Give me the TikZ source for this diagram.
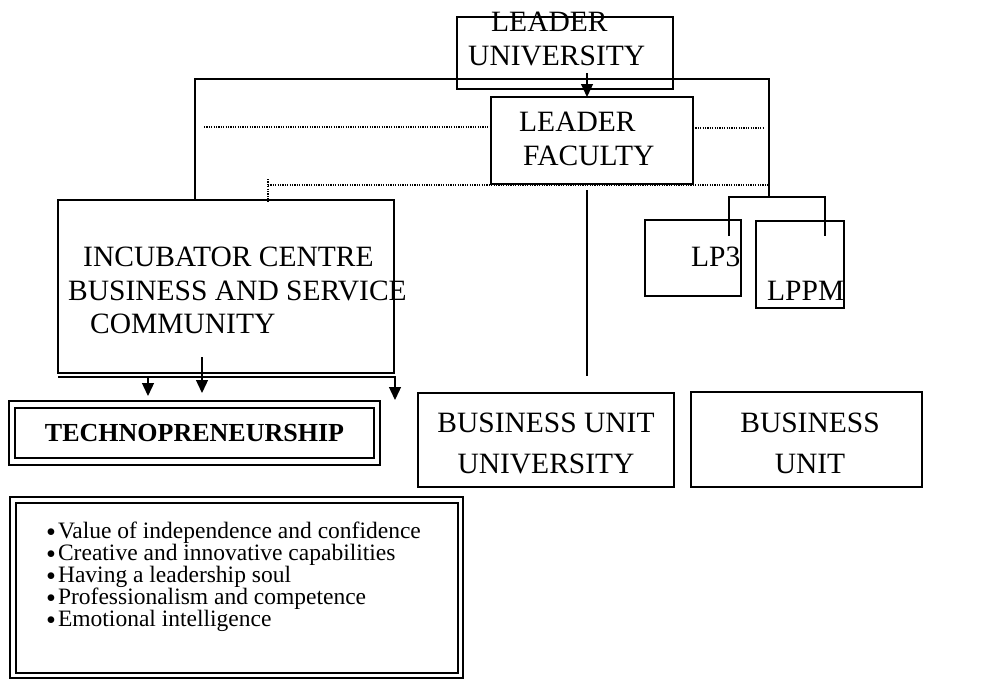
\documentclass[tikz,border=0pt]{standalone}
\usepackage{fontspec}
\setmainfont{Liberation Serif}
\usetikzlibrary{arrows.meta,calc}

\newcommand{\bul}{\raisebox{-3pt}{\scalebox{1.2}{\textbullet}}\hspace{2pt}}

\tikzset{
  unitbox/.style={draw, line width=1.3pt, inner sep=0pt, outer sep=0pt, anchor=north west},
  frmbox/.style={draw, line width=2.4pt, inner sep=0pt, outer sep=0pt},
  lbl/.style={anchor=base west, inner sep=0pt, font=\fontsize{29.5}{33}\selectfont},
  clbl/.style={anchor=base, inner sep=0pt, font=\fontsize{29.5}{33}\selectfont},
  item/.style={anchor=base west, inner sep=0pt, font=\fontsize{23.5}{22}\selectfont},
  link/.style={line width=1.3pt},
  dotline/.style={line width=1.3pt, dash pattern=on 1.2pt off 1.2pt},
  arr/.style={line width=1.3pt, -{Triangle[width=12pt,length=13pt]}}
}

\begin{document}
\begin{tikzpicture}[x=1pt,y=1pt,yscale=-1]
\useasboundingbox (0,0) rectangle (992,680);

%Shape: Rectangles
\node[unitbox, minimum width=216pt, minimum height=72pt] (uni) at (457,17) {};
\node[unitbox, minimum width=202pt, minimum height=87pt] (fac) at (491,97) {};
\node[unitbox, minimum width=336pt, minimum height=173pt] (inc) at (58,200) {};
\node[unitbox, minimum width=96pt, minimum height=76pt] (lp3) at (645,220) {};
\node[unitbox, minimum width=88pt, minimum height=87pt] (lppm) at (756,221) {};
\node[unitbox, minimum width=256pt, minimum height=94pt] (buu) at (418,393) {};
\node[unitbox, minimum width=231pt, minimum height=95pt] (bu) at (691,392) {};

%Shape: framed boxes
\node[frmbox, minimum width=359pt, minimum height=50pt, font=\bfseries\fontsize{26}{30}\selectfont] (tech) at (194.5,433) {TECHNOPRENEURSHIP};
\draw[line width=1.4pt] ($(tech.north west)+(-6,-7)$) rectangle ($(tech.south east)+(6,7)$);
\node[frmbox, minimum width=442pt, minimum height=170pt] (vals) at (237,588) {};
\draw[line width=1.4pt] ($(vals.north west)+(-6,-6)$) rectangle ($(vals.south east)+(5,5)$);

% Text Node
\node[lbl] (uni1) at (491,31.7) {LEADER};
\node[lbl] (uni2) at (468,65) {UNIVERSITY};
\node[lbl] (fac1) at (519,131.7) {LEADER};
\node[lbl] (fac2) at (523,165) {FACULTY};
\node[lbl] (inc1) at (83,266.7) {INCUBATOR CENTRE};
\node[lbl] (inc2) at (68,300) {BUSINESS AND SERVICE};
\node[lbl] (inc3) at (90,333) {COMMUNITY};
\node[lbl] (lp3t) at (691,266) {LP3};
\node[lbl] (lppmt) at (767,300) {LPPM};
\node[clbl] (buu1) at (546,432) {BUSINESS UNIT};
\node[clbl] (buu2) at (546,473) {UNIVERSITY};
\node[clbl] (bu1) at (810,432) {BUSINESS};
\node[clbl] (bu2) at (810,473) {UNIT};

% Text Node
\node[item] (v1) at (46,538) {\bul Value of independence and confidence};
\node[item] (v2) at (46,560) {\bul Creative and innovative capabilities};
\node[item] (v3) at (46,582) {\bul Having a leadership soul};
\node[item] (v4) at (46,604) {\bul Professionalism and competence};
\node[item] (v5) at (46,626) {\bul Emotional intelligence};

%Straight Lines
\coordinate (tl) at (195,79);
\coordinate (tr) at (769,79);
\coordinate (lpj) at (769,197);
\coordinate (lpa) at (729,236);
\coordinate (lpb) at (825,236);
\draw[link] (tl |- inc.north) -- (tl) -- (tr) -- (lpj);
\draw[link] (lpa) |- (lpj) -| (lpb);
\draw[arr] ([xshift=-5pt,yshift=-24pt]fac.north) -- ([xshift=-5pt]fac.north);
\draw[link] ([xshift=-5pt,yshift=6pt]fac.south) -- ++(0,186);

%Dotted Lines
\coordinate (dl) at (204,127);
\coordinate (dr) at (763,128);
\coordinate (db) at (268,185);
\draw[dotline] (dl) -- (dl -| fac.west);
\draw[dotline] (fac.east |- dr) -- (dr);
\draw[dotline] (db) -- (db -| tr);
\draw[dotline] ($(db)+(0,-6)$) -- ($(db |- inc.north)+(0,2)$);

%Arrows under the incubator
\draw[arr] ([yshift=4pt]inc.south west) -| ($(inc.south east)+(1,27)$);
\draw[arr] ($(inc.south west)+(90,4)$) -- ++(0,19);
\draw[arr] ($(inc.south west)+(144,-16)$) -- ++(0,36);

\end{tikzpicture}
\end{document}
